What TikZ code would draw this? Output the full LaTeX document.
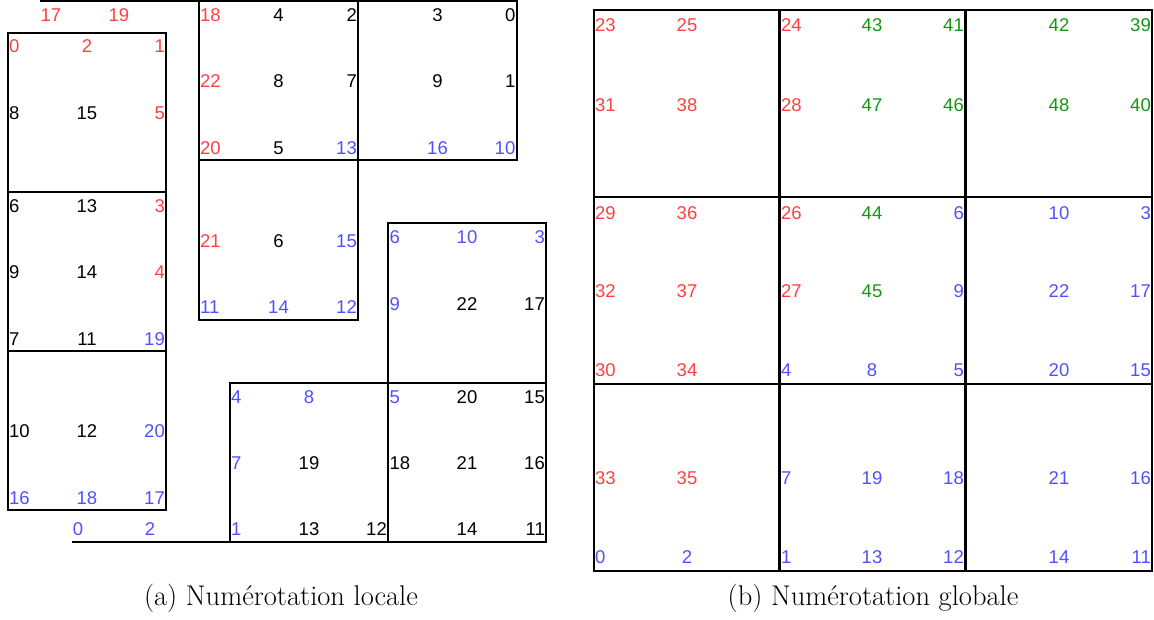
\documentclass[tikz,border=0pt]{standalone}
\usepackage{fontspec}
\newfontfamily\numfont{Liberation Sans}
\definecolor{numred}{RGB}{255,64,64}
\definecolor{numblue}{RGB}{80,80,255}
\definecolor{numgreen}{RGB}{20,150,20}
\begin{document}
\begin{tikzpicture}[x=1pt,y=-1pt,
    sq/.style={line width=2.5pt},
    lab/.style={font={\numfont\fontsize{18.5}{20}\selectfont},inner sep=0pt},
    L/.style={lab,anchor=base west},
    C/.style={lab,anchor=base},
    R/.style={lab,anchor=base east},
    cr/.style={text=numred},
    cb/.style={text=numblue},
    cg/.style={text=numgreen},
    ck/.style={text=black},
    capt/.style={font=\fontsize{28.5}{32}\selectfont,anchor=base,inner sep=0pt}]
  \useasboundingbox (0,0) rectangle (1154,619);
  % (a) local numbering: left column of three squares
  \draw[sq] (40,1) -- (199,1);
  \node[C,cr] (a0n17) at (51,21) {17}; \node[C,cr] (a0n19) at (119,21) {19};
  \draw[sq] (8,33) rectangle (166,192);
  \foreach \x/\y/\a/\t/\c in {9/52/L/0/cr, 87/52/C/2/cr, 165/52/R/1/cr,
      9/119/L/8/ck, 87/119/C/15/ck, 165/119/R/5/cr}
    \node[\a,\c] (a1n\t) at (\x,\y) {\t};
  \draw[sq] (8,192) rectangle (166,351);
  \foreach \x/\y/\a/\t/\c in {9/212/L/6/ck, 87/212/C/13/ck, 165/212/R/3/cr,
      9/278.5/L/9/ck, 87/278.5/C/14/ck, 165/278.5/R/4/cr,
      9/345/L/7/ck, 87/345/C/11/ck, 165/345/R/19/cb}
    \node[\a,\c] (a2n\t) at (\x,\y) {\t};
  \draw[sq] (8,351) rectangle (166,510);
  \foreach \x/\y/\a/\t/\c in {9/437.5/L/10/ck, 87/437.5/C/12/ck, 165/437.5/R/20/cb,
      9/504/L/16/cb, 87/504/C/18/cb, 165/504/R/17/cb}
    \node[\a,\c] (a3n\t) at (\x,\y) {\t};
  \node[C,cb] (a4n0) at (78,535) {0}; \node[C,cb] (a4n2) at (150,535) {2};
  \draw[sq] (72,542) -- (230,542);
  % (a) top block
  \draw[sq] (199,1) rectangle (358,160);
  \foreach \x/\y/\a/\t/\c in {200/21/L/18/cr, 278.5/21/C/4/ck, 357/21/R/2/ck,
      200/87.5/L/22/cr, 278.5/87.5/C/8/ck, 357/87.5/R/7/ck,
      200/154/L/20/cr, 278.5/154/C/5/ck, 357/154/R/13/cb}
    \node[\a,\c] (b1n\t) at (\x,\y) {\t};
  \draw[sq] (358,1) rectangle (517,160);
  \foreach \x/\y/\a/\t/\c in {437.5/21/C/3/ck, 515.5/21/R/0/ck,
      437.5/87.5/C/9/ck, 515.5/87.5/R/1/ck,
      437.5/154/C/16/cb, 515.5/154/R/10/cb}
    \node[\a,\c] (b2n\t) at (\x,\y) {\t};
  \draw[sq] (199,160) rectangle (358,320);
  \foreach \x/\y/\a/\t/\c in {200/247/L/21/cr, 278.5/247/C/6/ck, 357/247/R/15/cb,
      200/313/L/11/cb, 278.5/313/C/14/cb, 357/313/R/12/cb}
    \node[\a,\c] (b3n\t) at (\x,\y) {\t};
  % (a) bottom block
  \draw[sq] (388,223) rectangle (546,383);
  \foreach \x/\y/\a/\t/\c in {389.5/243/L/6/cb, 467/243/C/10/cb, 545/243/R/3/cb,
      389.5/310/L/9/cb, 467/310/C/22/ck, 545/310/R/17/ck}
    \node[\a,\c] (c1n\t) at (\x,\y) {\t};
  \draw[sq] (230,383) rectangle (388,542);
  \foreach \x/\y/\a/\t/\c in {231/403/L/4/cb, 309/403/C/8/cb,
      231/469.5/L/7/cb, 309/469.5/C/19/ck,
      231/535/L/1/cb, 309/535/C/13/ck, 387/535/R/12/ck}
    \node[\a,\c] (c2n\t) at (\x,\y) {\t};
  \draw[sq] (388,383) rectangle (546,542);
  \foreach \x/\y/\a/\t/\c in {389.5/403/L/5/cb, 467/403/C/20/ck, 545/403/R/15/ck,
      389.5/469.5/L/18/ck, 467/469.5/C/21/ck, 545/469.5/R/16/ck,
      467/535/C/14/ck, 545/535/R/11/ck}
    \node[\a,\c] (c3n\t) at (\x,\y) {\t};
  % (b) global numbering: 3x3 grid
  \draw[sq] (594,10) rectangle (1152,571);
  \foreach \x in {779.5,965.5} \draw[sq] (\x,10) -- (\x,571);
  \foreach \y in {197,384} \draw[sq] (594,\y) -- (1152,\y);
  \foreach \x/\a/\t/\c in {595/L/23/cr, 687/C/25/cr, 781/L/24/cr, 872/C/43/cg, 964/R/41/cg, 1059/C/42/cg, 1151/R/39/cg}
    \node[\a,\c] (g\t) at (\x,31) {\t};
  \foreach \x/\a/\t/\c in {595/L/31/cr, 687/C/38/cr, 781/L/28/cr, 872/C/47/cg, 964/R/46/cg, 1059/C/48/cg, 1151/R/40/cg}
    \node[\a,\c] (g\t) at (\x,111) {\t};
  \foreach \x/\a/\t/\c in {595/L/29/cr, 687/C/36/cr, 781/L/26/cr, 872/C/44/cg, 964/R/6/cb, 1059/C/10/cb, 1151/R/3/cb}
    \node[\a,\c] (g\t) at (\x,219) {\t};
  \foreach \x/\a/\t/\c in {595/L/32/cr, 687/C/37/cr, 781/L/27/cr, 872/C/45/cg, 964/R/9/cb, 1059/C/22/cb, 1151/R/17/cb}
    \node[\a,\c] (g\t) at (\x,297) {\t};
  \foreach \x/\a/\t/\c in {595/L/30/cr, 687/C/34/cr, 781/L/4/cb, 872/C/8/cb, 964/R/5/cb, 1059/C/20/cb, 1151/R/15/cb}
    \node[\a,\c] (g\t) at (\x,376) {\t};
  \foreach \x/\a/\t/\c in {595/L/33/cr, 687/C/35/cr, 781/L/7/cb, 872/C/19/cb, 964/R/18/cb, 1059/C/21/cb, 1151/R/16/cb}
    \node[\a,\c] (g\t) at (\x,484) {\t};
  \foreach \x/\a/\t/\c in {595/L/0/cb, 687/C/2/cb, 781/L/1/cb, 872/C/13/cb, 964/R/12/cb, 1059/C/14/cb, 1151/R/11/cb}
    \node[\a,\c] (g\t) at (\x,563) {\t};
  % captions
  \node[capt] (capa) at (281,605) {(a) Numérotation locale};
  \node[capt] (capb) at (873,605) {(b) Numérotation globale};
\end{tikzpicture}
\end{document}
